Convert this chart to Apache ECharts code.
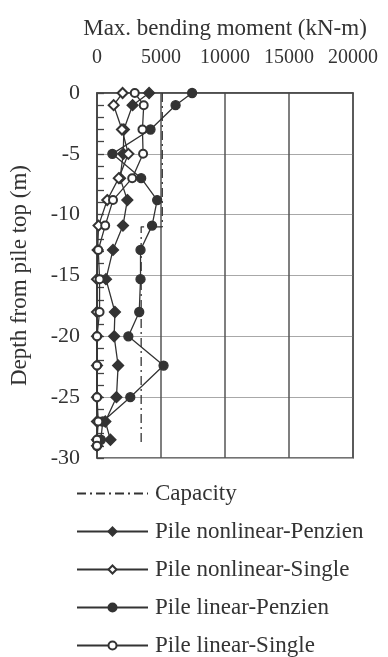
<!DOCTYPE html>
<html>
<head>
<meta charset="utf-8">
<title>Max. bending moment along pile</title>
<script src="https://cdn.jsdelivr.net/npm/echarts@6/dist/echarts.min.js"></script>
<style>
  html, body { margin: 0; padding: 0; background: #ffffff; }
  #chart { width: 388px; height: 657px; }
</style>
</head>
<body>
<div id="chart"></div>
<script>
// Depth of each output node along the pile (m, 0 = pile top)
const depths = [0, -1, -3, -5, -7, -8.8, -10.9, -12.9, -15.3, -18, -20, -22.4, -25, -27, -28.5, -29];

// Max. bending moment at each node (kN-m); null = no value at that node
const nonlinearPenzien = [4070, 2780, 2100, 2050, 1800, 2370, 2030, 1250, 700, 1400, 1340, 1650, 1520, 650, 1050, null];
const nonlinearSingle  = [2000, 1300, 1950, 2450, 1700, 800, 120, 50, 0, 0, 0, 0, 0, 0, 0, 0];
const linearPenzien    = [7430, 6140, 4180, 1200, 3450, 4700, 4300, 3400, 3400, 3300, 2450, 5200, 2600, 450, 300, 0];
const linearSingle     = [2950, 3650, 3550, 3600, 2750, 1250, 640, 100, 200, 200, 0, 0, 0, 100, 0, 0];

// Section capacity (stepped, reduced below about 11 m)
const capacityDepths = [0, -11, -11, -29];
const capacityValues = [5100, 5100, 3450, 3450];

// Axis ticks
const momentTicks = [0, 5000, 10000, 15000, 20000];
const depthTicks = [0, -5, -10, -15, -20, -25, -30];

const seriesNames = [
  'Capacity',
  'Pile nonlinear-Penzien',
  'Pile nonlinear-Single',
  'Pile linear-Penzien',
  'Pile linear-Single'
];

function pairs(values, ys) {
  const out = [];
  values.forEach(function (v, i) {
    if (v !== null && v !== undefined) out.push([v, ys[i]]);
  });
  return out;
}

const ink = '#333333';
const serif = '"Liberation Serif", "DejaVu Serif", serif';

function profile(name, values, symbol, size) {
  return {
    name: name,
    type: 'line',
    data: pairs(values, depths),
    symbol: symbol,
    symbolSize: size,
    showAllSymbol: true,
    lineStyle: { color: ink, width: 1.3 },
    itemStyle: { color: ink, borderColor: ink, borderWidth: 1.3 },
    emphasis: { disabled: true },
    z: 3
  };
}

const chart = echarts.init(document.getElementById('chart'), null, { renderer: 'canvas' });

chart.setOption({
  animation: false,
  backgroundColor: '#ffffff',
  textStyle: { fontFamily: serif, color: ink },
  grid: {
    left: 97, right: 35, top: 93, bottom: 199,
    outerBoundsMode: 'none',
    containLabel: false,
    show: true,
    borderColor: '#444444',
    borderWidth: 1.5,
    backgroundColor: 'transparent'
  },
  xAxis: {
    type: 'value',
    position: 'top',
    min: momentTicks[0],
    max: momentTicks[momentTicks.length - 1],
    interval: momentTicks[1] - momentTicks[0],
    name: 'Max. bending moment (kN-m)',
    nameLocation: 'middle',
    nameGap: 53,
    nameTextStyle: { fontFamily: serif, fontSize: 23, color: ink },
    axisLine: { show: true, lineStyle: { color: '#444444', width: 1.5 } },
    axisTick: { show: false },
    axisLabel: {
      fontFamily: serif, fontSize: 20, color: ink, margin: 25,
      formatter: function (v) { return String(v); }
    },
    splitLine: { show: true, lineStyle: { color: '#555555', width: 1.5 } }
  },
  yAxis: {
    type: 'value',
    min: depthTicks[depthTicks.length - 1],
    max: depthTicks[0],
    interval: 5,
    name: 'Depth from pile top (m)',
    nameLocation: 'middle',
    nameRotate: 90,
    nameGap: 66,
    nameTextStyle: { fontFamily: serif, fontSize: 23, color: ink },
    axisLine: { show: true, lineStyle: { color: '#444444', width: 1.5 } },
    axisTick: { show: true, inside: true, length: 7, lineStyle: { color: '#444444', width: 1.3 } },
    minorTick: { show: true, splitNumber: 5, length: 7, lineStyle: { color: '#444444', width: 1.3 } },
    axisLabel: {
      fontFamily: serif, fontSize: 22, color: ink, margin: 17,
      formatter: function (v) { return String(v); }
    },
    splitLine: { show: true, lineStyle: { color: '#a8a8a8', width: 1 } }
  },
  legend: {
    orient: 'vertical',
    left: 76,
    top: 482,
    height: 200,
    padding: 0,
    itemWidth: 71,
    itemHeight: 10,
    itemGap: 15,
    selectedMode: false,
    textStyle: { fontFamily: serif, fontSize: 23, color: ink, padding: [0, 0, 0, 2] },
    data: [
      { name: seriesNames[0], itemStyle: { opacity: 0 } },
      seriesNames[1], seriesNames[2], seriesNames[3], seriesNames[4]
    ]
  },
  series: [
    {
      name: seriesNames[0],
      type: 'line',
      data: pairs(capacityValues, capacityDepths),
      symbol: 'none',
      lineStyle: { color: ink, width: 1.3, type: [9, 4, 2, 4] },
      itemStyle: { color: ink },
      emphasis: { disabled: true },
      z: 2
    },
    profile(seriesNames[1], nonlinearPenzien, 'diamond', 11),
    profile(seriesNames[2], nonlinearSingle, 'emptyDiamond', 10),
    profile(seriesNames[3], linearPenzien, 'circle', 9),
    profile(seriesNames[4], linearSingle, 'emptyCircle', 8)
  ]
});
</script>
</body>
</html>
